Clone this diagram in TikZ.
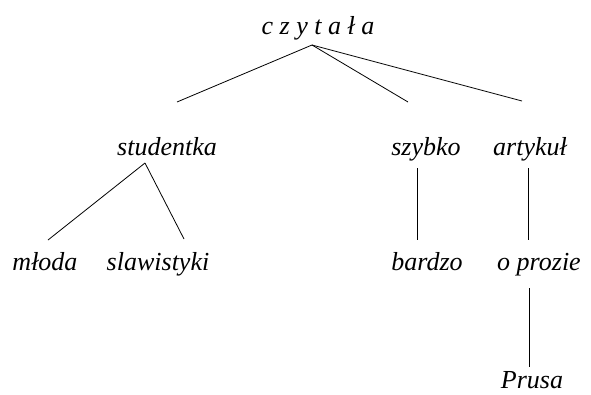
\documentclass[tikz,border=0pt]{standalone}
\usepackage{fontspec}
\setmainfont{Liberation Serif}
\usepackage{tikz}

\tikzset{
  word/.style={anchor=base, inner sep=0pt, font=\fontsize{26}{30}\selectfont\itshape},
  branch/.style={line width=0.8pt}
}

\begin{document}
\begin{tikzpicture}[x=1pt, y=-1pt]
  \useasboundingbox (0,0) rectangle (591,394);
  % words of the tree
  \node[word] (czytala) at (318,34) {c z y t a ł a};
  \node[word] (studentka) at (167,155) {studentka};
  \node[word] (szybko) at (426,155) {szybko};
  \node[word] (artykul) at (530,155) {artykuł};
  \node[word] (mloda) at (45,270) {młoda};
  \node[word] (slawistyki) at (158,270) {slawistyki};
  \node[word] (bardzo) at (427,270) {bardzo};
  \node[word] (oprozie) at (539,270) {o prozie};
  \node[word] (prusa) at (532,388) {Prusa};
  % ends of the branches
  \coordinate (czytala-s) at (312,45);
  \coordinate (studentka-n) at (177,102);
  \coordinate (szybko-n) at (408,102);
  \coordinate (artykul-n) at (522,101);
  \coordinate (studentka-s) at (145,163);
  \coordinate (mloda-n) at (48,240);
  \coordinate (slawistyki-n) at (184,239);
  \coordinate (szybko-s) at (417,168);
  \coordinate (bardzo-n) at (417,240);
  \coordinate (artykul-s) at (528,168);
  \coordinate (oprozie-n) at (528,240);
  \coordinate (oprozie-s) at (529,288);
  \coordinate (prusa-n) at (529,367);
  \draw[branch] (czytala-s) -- (studentka-n);
  \draw[branch] (czytala-s) -- (szybko-n);
  \draw[branch] (czytala-s) -- (artykul-n);
  \draw[branch] (studentka-s) -- (mloda-n);
  \draw[branch] (studentka-s) -- (slawistyki-n);
  \draw[branch] (szybko-s) -- (bardzo-n);
  \draw[branch] (artykul-s) -- (oprozie-n);
  \draw[branch] (oprozie-s) -- (prusa-n);
\end{tikzpicture}
\end{document}
